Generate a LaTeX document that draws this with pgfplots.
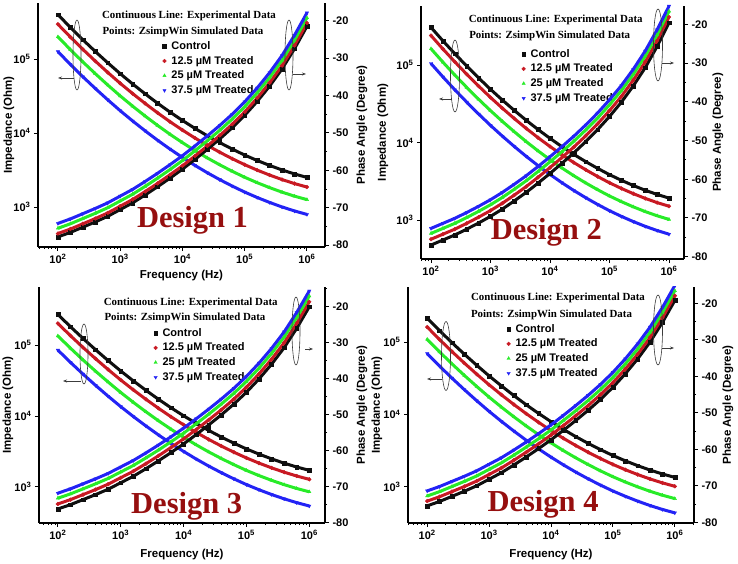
\documentclass[border=0pt]{standalone}
\usepackage{pgfplots}
\usepackage{pgfplotstable}
\pgfplotsset{compat=1.18}
\usetikzlibrary{arrows.meta}
\usepackage{fontspec}
\setmainfont{Liberation Serif}
\setsansfont{Liberation Sans}
\definecolor{cK}{RGB}{15,15,15}
\definecolor{cR}{RGB}{200,25,35}
\definecolor{cG}{RGB}{40,235,40}
\definecolor{cB}{RGB}{35,35,245}
\definecolor{cD}{RGB}{150,15,15}
\newcommand\tfont{\sffamily\bfseries\fontsize{11}{13}\selectfont}
\newcommand\lfont{\sffamily\bfseries\fontsize{11.5}{13}\selectfont}
\newcommand\nfont{\rmfamily\bfseries\fontsize{10.9}{13}\selectfont}
\newcommand\dfont{\rmfamily\bfseries\fontsize{30.5}{32}\selectfont}
\pgfplotsset{
  mleg/.style={legend image code/.code={\draw[##1] plot coordinates {(0pt,0pt)};}},
  mk/.style={only marks, mark size=1.9pt, mleg},
  ln/.style={line width=3pt, forget plot},
  twin/.style={scale only axis, axis line style={line width=1.1pt, black},
    tick style={line width=0.9pt, black}, tick align=outside,
    major tick length=4pt, minor tick length=2.2pt,
    tick label style={font=\tfont}, label style={font=\lfont}},
  leftax/.style={twin, axis y line*=left, axis x line*=bottom,
    xtick={2,3,4,5,6},
    xticklabels={10\textsuperscript{2},10\textsuperscript{3},10\textsuperscript{4},10\textsuperscript{5},10\textsuperscript{6}},
    minor xtick={1.699,1.778,1.845,1.903,1.954,2.301,2.477,2.602,2.699,2.778,2.845,2.903,2.954,3.301,3.477,3.602,3.699,3.778,3.845,3.903,3.954,4.301,4.477,4.602,4.699,4.778,4.845,4.903,4.954,5.301,5.477,5.602,5.699,5.778,5.845,5.903,5.954,6.301},
    ytick={3,4,5},
    yticklabels={10\textsuperscript{3},10\textsuperscript{4},10\textsuperscript{5}},
    legend cell align=left},
  rightax/.style={twin, axis y line*=right, axis x line=none,
    ytick={-80,-70,-60,-50,-40,-30,-20},
    yticklabels={-80,-70,-60,-50,-40,-30,-20},
    minor ytick={-75,-65,-55,-45,-35,-25,-15}},
  legst/.style={legend style={draw=none, fill=none, font=\tfont, anchor=north west,
    row sep=4.7pt, nodes={inner sep=0pt, text height=8pt, text depth=2pt},
    /tikz/every odd column/.append style={column sep=5pt}}},
}
\pgfplotstableread{
x zc zr zg zb pc pr pg pb
2.0 5.600 5.470 5.300 5.100 -77.8 -76.9 -75.5 -74.2
2.2 5.427 5.297 5.127 4.927 -76.6 -75.7 -74.3 -73.0
2.4 5.261 5.131 4.961 4.761 -75.2 -74.3 -72.9 -71.6
2.6 5.102 4.972 4.802 4.602 -73.8 -72.9 -71.5 -70.2
2.8 4.949 4.819 4.649 4.449 -72.3 -71.4 -70.0 -68.7
3.0 4.802 4.672 4.502 4.302 -70.5 -69.6 -68.2 -66.9
3.2 4.663 4.533 4.363 4.163 -68.7 -67.8 -66.4 -65.1
3.4 4.530 4.400 4.230 4.030 -66.6 -65.7 -64.3 -63.0
3.6 4.403 4.273 4.103 3.903 -64.4 -63.5 -62.1 -60.8
3.8 4.283 4.153 3.983 3.783 -62.1 -61.2 -59.8 -58.5
4.0 4.170 4.040 3.870 3.670 -59.7 -58.8 -57.4 -56.1
4.2 4.063 3.933 3.763 3.563 -57.1 -56.2 -54.8 -53.5
4.4 3.963 3.833 3.663 3.463 -54.4 -53.5 -52.1 -50.8
4.6 3.870 3.740 3.570 3.370 -51.6 -50.7 -49.3 -48.0
4.8 3.783 3.653 3.483 3.283 -48.6 -47.7 -46.3 -45.0
5.0 3.702 3.572 3.402 3.202 -45.3 -44.4 -43.0 -41.7
5.2 3.629 3.499 3.329 3.129 -41.6 -40.7 -39.3 -38.0
5.4 3.562 3.432 3.262 3.062 -37.5 -36.6 -35.2 -33.9
5.6 3.501 3.371 3.201 3.001 -32.9 -32.0 -30.6 -29.3
5.8 3.447 3.317 3.147 2.947 -27.5 -26.6 -25.2 -23.9
6.0 3.400 3.270 3.100 2.900 -21.5 -20.6 -19.2 -17.9
}\tA
\pgfplotstableread{
x zc zr zg zb pc pr pg pb
2.0 5.485 5.380 5.210 5.020 -77.0 -75.5 -74.0 -72.7
2.2 5.312 5.207 5.037 4.847 -75.7 -74.2 -72.7 -71.4
2.4 5.146 5.041 4.871 4.681 -74.4 -72.9 -71.4 -70.1
2.6 4.987 4.882 4.712 4.522 -72.9 -71.4 -69.9 -68.6
2.8 4.834 4.729 4.559 4.369 -71.3 -69.8 -68.3 -67.0
3.0 4.687 4.582 4.412 4.222 -69.6 -68.1 -66.6 -65.3
3.2 4.548 4.443 4.273 4.083 -67.7 -66.2 -64.7 -63.4
3.4 4.415 4.310 4.140 3.950 -65.6 -64.1 -62.6 -61.3
3.6 4.288 4.183 4.013 3.823 -63.4 -61.9 -60.4 -59.1
3.8 4.168 4.063 3.893 3.703 -61.0 -59.5 -58.0 -56.7
4.0 4.055 3.950 3.780 3.590 -58.5 -57.0 -55.5 -54.2
4.2 3.948 3.843 3.673 3.483 -55.9 -54.4 -52.9 -51.6
4.4 3.848 3.743 3.573 3.383 -53.2 -51.7 -50.2 -48.9
4.6 3.755 3.650 3.480 3.290 -50.3 -48.8 -47.3 -46.0
4.8 3.668 3.563 3.393 3.203 -47.2 -45.7 -44.2 -42.9
5.0 3.587 3.482 3.312 3.122 -43.8 -42.3 -40.8 -39.5
5.2 3.514 3.409 3.239 3.049 -40.1 -38.6 -37.1 -35.8
5.4 3.447 3.342 3.172 2.982 -35.9 -34.4 -32.9 -31.6
5.6 3.386 3.281 3.111 2.921 -31.2 -29.7 -28.2 -26.9
5.8 3.332 3.227 3.057 2.867 -25.7 -24.2 -22.7 -21.4
6.0 3.285 3.180 3.010 2.820 -19.6 -18.1 -16.6 -15.3
}\tB
\pgfplotstableread{
x zc zr zg zb pc pr pg pb
2.0 5.433 5.306 5.130 4.930 -76.3 -74.9 -73.3 -71.9
2.2 5.260 5.133 4.957 4.757 -75.1 -73.7 -72.1 -70.7
2.4 5.094 4.967 4.791 4.591 -73.7 -72.3 -70.7 -69.3
2.6 4.935 4.808 4.632 4.432 -72.3 -70.9 -69.3 -67.9
2.8 4.782 4.655 4.479 4.279 -70.8 -69.4 -67.8 -66.4
3.0 4.635 4.508 4.332 4.132 -69.0 -67.6 -66.0 -64.6
3.2 4.496 4.369 4.193 3.993 -67.2 -65.8 -64.2 -62.8
3.4 4.363 4.236 4.060 3.860 -65.1 -63.7 -62.1 -60.7
3.6 4.236 4.109 3.933 3.733 -62.9 -61.5 -59.9 -58.5
3.8 4.116 3.989 3.813 3.613 -60.6 -59.2 -57.6 -56.2
4.0 4.003 3.876 3.700 3.500 -58.2 -56.8 -55.2 -53.8
4.2 3.896 3.769 3.593 3.393 -55.6 -54.2 -52.6 -51.2
4.4 3.796 3.669 3.493 3.293 -52.9 -51.5 -49.9 -48.5
4.6 3.703 3.576 3.400 3.200 -50.1 -48.7 -47.1 -45.7
4.8 3.616 3.489 3.313 3.113 -47.1 -45.7 -44.1 -42.7
5.0 3.535 3.408 3.232 3.032 -43.8 -42.4 -40.8 -39.4
5.2 3.462 3.335 3.159 2.959 -40.1 -38.7 -37.1 -35.7
5.4 3.395 3.268 3.092 2.892 -36.0 -34.6 -33.0 -31.6
5.6 3.334 3.207 3.031 2.831 -31.4 -30.0 -28.4 -27.0
5.8 3.280 3.153 2.977 2.777 -26.0 -24.6 -23.0 -21.6
6.0 3.233 3.106 2.930 2.730 -20.0 -18.6 -17.0 -15.6
}\tC
\pgfplotstableread{
x zc zr zg zb pc pr pg pb
2.0 5.330 5.207 5.037 4.840 -75.5 -74.2 -72.8 -71.4
2.2 5.157 5.034 4.864 4.667 -74.3 -73.0 -71.6 -70.2
2.4 4.991 4.868 4.698 4.501 -72.9 -71.6 -70.2 -68.8
2.6 4.832 4.709 4.539 4.342 -71.5 -70.2 -68.8 -67.4
2.8 4.679 4.556 4.386 4.189 -70.0 -68.7 -67.3 -65.9
3.0 4.532 4.409 4.239 4.042 -68.2 -66.9 -65.5 -64.1
3.2 4.393 4.270 4.100 3.903 -66.4 -65.1 -63.7 -62.3
3.4 4.260 4.137 3.967 3.770 -64.3 -63.0 -61.6 -60.2
3.6 4.133 4.010 3.840 3.643 -62.1 -60.8 -59.4 -58.0
3.8 4.013 3.890 3.720 3.523 -59.8 -58.5 -57.1 -55.7
4.0 3.900 3.777 3.607 3.410 -57.4 -56.1 -54.7 -53.3
4.2 3.793 3.670 3.500 3.303 -54.8 -53.5 -52.1 -50.7
4.4 3.693 3.570 3.400 3.203 -52.1 -50.8 -49.4 -48.0
4.6 3.600 3.477 3.307 3.110 -49.3 -48.0 -46.6 -45.2
4.8 3.513 3.390 3.220 3.023 -46.3 -45.0 -43.6 -42.2
5.0 3.432 3.309 3.139 2.942 -43.0 -41.7 -40.3 -38.9
5.2 3.359 3.236 3.066 2.869 -39.3 -38.0 -36.6 -35.2
5.4 3.292 3.169 2.999 2.802 -35.2 -33.9 -32.5 -31.1
5.6 3.231 3.108 2.938 2.741 -30.6 -29.3 -27.9 -26.5
5.8 3.177 3.054 2.884 2.687 -25.2 -23.9 -22.5 -21.1
6.0 3.130 3.007 2.837 2.640 -19.2 -17.9 -16.5 -15.1
}\tD
\begin{document}
\begin{tikzpicture}
\useasboundingbox (0pt,0pt) rectangle (738pt,564pt);
% ---------------- Panel 1 ----------------
\begin{axis}[leftax, legst, at={(38pt,317pt)}, width=287pt, height=244pt,
  xmin=1.68, xmax=6.29, ymin=2.46, ymax=5.757,
  legend style={at={(0.423,0.852)}},
  ylabel={Impedance (Ohm)}, ylabel style={at={([xshift=-29pt]axis description cs:0,0.5)}, anchor=center},
  xlabel={Frequency (Hz)}, xlabel style={at={([yshift=-29pt]axis description cs:0.5,0)}, anchor=center}]
\addplot[cK, ln] table[x=x,y=zc]{\tA};
\addplot[cK, mk, mark=square*] table[x=x,y=zc]{\tA}; \addlegendentry{Control}
\addplot[cR, ln] table[x=x,y=zr]{\tA};
\addplot[cR, mk, mark=*] table[x=x,y=zr]{\tA}; \addlegendentry{12.5 µM Treated}
\addplot[cG, ln] table[x=x,y=zg]{\tA};
\addplot[cG, mk, mark=triangle*] table[x=x,y=zg]{\tA}; \addlegendentry{25 µM Treated}
\addplot[cB, ln] table[x=x,y=zb]{\tA};
\addplot[cB, mk, mark=triangle*, mark options={rotate=180}] table[x=x,y=zb]{\tA}; \addlegendentry{37.5 µM Treated}
\end{axis}
\begin{axis}[rightax, at={(38pt,317pt)}, width=287pt, height=244pt,
  xmin=1.68, xmax=6.29, ymin=-80.5, ymax=-15.27,
  ylabel={Phase Angle (Degree)}, ylabel style={at={([xshift=37pt]axis description cs:1,0.5)}, anchor=center}]
\addplot[cK, ln] table[x=x,y=pc]{\tA};
\addplot[cK, mk, mark=square*, forget plot] table[x=x,y=pc]{\tA};
\addplot[cR, ln] table[x=x,y=pr]{\tA};
\addplot[cR, mk, mark=*, forget plot] table[x=x,y=pr]{\tA};
\addplot[cG, ln] table[x=x,y=pg]{\tA};
\addplot[cG, mk, mark=triangle*, forget plot] table[x=x,y=pg]{\tA};
\addplot[cB, ln] table[x=x,y=pb]{\tA};
\addplot[cB, mk, mark=triangle*, mark options={rotate=180}, forget plot] table[x=x,y=pb]{\tA};
\end{axis}
% ---------------- Panel 2 ----------------
\begin{axis}[leftax, legst, at={(421pt,305pt)}, width=263pt, height=253pt,
  xmin=1.832, xmax=6.252, ymin=2.50, ymax=5.761,
  legend style={at={(0.371,0.838)}},
  ylabel={Impedance (Ohm)}, ylabel style={at={([xshift=-38pt]axis description cs:0,0.5)}, anchor=center}]
\addplot[cK, ln] table[x=x,y=zc]{\tB};
\addplot[cK, mk, mark=square*] table[x=x,y=zc]{\tB}; \addlegendentry{Control}
\addplot[cR, ln] table[x=x,y=zr]{\tB};
\addplot[cR, mk, mark=*] table[x=x,y=zr]{\tB}; \addlegendentry{12.5 µM Treated}
\addplot[cG, ln] table[x=x,y=zg]{\tB};
\addplot[cG, mk, mark=triangle*] table[x=x,y=zg]{\tB}; \addlegendentry{25 µM Treated}
\addplot[cB, ln] table[x=x,y=zb]{\tB};
\addplot[cB, mk, mark=triangle*, mark options={rotate=180}] table[x=x,y=zb]{\tB}; \addlegendentry{37.5 µM Treated}
\end{axis}
\begin{axis}[rightax, at={(421pt,305pt)}, width=263pt, height=253pt,
  xmin=1.832, xmax=6.252, ymin=-80.6, ymax=-15.27,
  ylabel={Phase Angle (Degree)}, ylabel style={at={([xshift=34pt]axis description cs:1,0.5)}, anchor=center}]
\addplot[cK, ln] table[x=x,y=pc]{\tB};
\addplot[cK, mk, mark=square*, forget plot] table[x=x,y=pc]{\tB};
\addplot[cR, ln] table[x=x,y=pr]{\tB};
\addplot[cR, mk, mark=*, forget plot] table[x=x,y=pr]{\tB};
\addplot[cG, ln] table[x=x,y=pg]{\tB};
\addplot[cG, mk, mark=triangle*, forget plot] table[x=x,y=pg]{\tB};
\addplot[cB, ln] table[x=x,y=pb]{\tB};
\addplot[cB, mk, mark=triangle*, mark options={rotate=180}, forget plot] table[x=x,y=pb]{\tB};
\end{axis}
% ---------------- Panel 3 ----------------
\begin{axis}[leftax, legst, at={(39pt,41pt)}, width=286pt, height=236pt,
  xmin=1.70, xmax=6.25, ymin=2.49, ymax=5.82,
  legend style={at={(0.390,0.835)}},
  ylabel={Impedance (Ohm)}, ylabel style={at={([xshift=-31pt]axis description cs:0,0.5)}, anchor=center},
  xlabel={Frequency (Hz)}, xlabel style={at={([yshift=-32pt]axis description cs:0.5,0)}, anchor=center}]
\addplot[cK, ln] table[x=x,y=zc]{\tC};
\addplot[cK, mk, mark=square*] table[x=x,y=zc]{\tC}; \addlegendentry{Control}
\addplot[cR, ln] table[x=x,y=zr]{\tC};
\addplot[cR, mk, mark=*] table[x=x,y=zr]{\tC}; \addlegendentry{12.5 µM Treated}
\addplot[cG, ln] table[x=x,y=zg]{\tC};
\addplot[cG, mk, mark=triangle*] table[x=x,y=zg]{\tC}; \addlegendentry{25 µM Treated}
\addplot[cB, ln] table[x=x,y=zb]{\tC};
\addplot[cB, mk, mark=triangle*, mark options={rotate=180}] table[x=x,y=zb]{\tC}; \addlegendentry{37.5 µM Treated}
\end{axis}
\begin{axis}[rightax, at={(39pt,41pt)}, width=286pt, height=236pt,
  xmin=1.70, xmax=6.25, ymin=-80.2, ymax=-14.5,
  ylabel={Phase Angle (Degree)}, ylabel style={at={([xshift=37pt]axis description cs:1,0.5)}, anchor=center}]
\addplot[cK, ln] table[x=x,y=pc]{\tC};
\addplot[cK, mk, mark=square*, forget plot] table[x=x,y=pc]{\tC};
\addplot[cR, ln] table[x=x,y=pr]{\tC};
\addplot[cR, mk, mark=*, forget plot] table[x=x,y=pr]{\tC};
\addplot[cG, ln] table[x=x,y=pg]{\tC};
\addplot[cG, mk, mark=triangle*, forget plot] table[x=x,y=pg]{\tC};
\addplot[cB, ln] table[x=x,y=pb]{\tC};
\addplot[cB, mk, mark=triangle*, mark options={rotate=180}, forget plot] table[x=x,y=pb]{\tC};
\end{axis}
% ---------------- Panel 4 ----------------
\begin{axis}[leftax, legst, at={(408pt,41pt)}, width=286pt, height=236pt,
  xmin=1.69, xmax=6.31, ymin=2.50, ymax=5.76,
  legend style={at={(0.334,0.852)}},
  ylabel={Impedance (Ohm)}, ylabel style={at={([xshift=-31pt]axis description cs:0,0.5)}, anchor=center},
  xlabel={Frequency (Hz)}, xlabel style={at={([yshift=-32pt]axis description cs:0.5,0)}, anchor=center}]
\addplot[cK, ln] table[x=x,y=zc]{\tD};
\addplot[cK, mk, mark=square*] table[x=x,y=zc]{\tD}; \addlegendentry{Control}
\addplot[cR, ln] table[x=x,y=zr]{\tD};
\addplot[cR, mk, mark=*] table[x=x,y=zr]{\tD}; \addlegendentry{12.5 µM Treated}
\addplot[cG, ln] table[x=x,y=zg]{\tD};
\addplot[cG, mk, mark=triangle*] table[x=x,y=zg]{\tD}; \addlegendentry{25 µM Treated}
\addplot[cB, ln] table[x=x,y=zb]{\tD};
\addplot[cB, mk, mark=triangle*, mark options={rotate=180}] table[x=x,y=zb]{\tD}; \addlegendentry{37.5 µM Treated}
\end{axis}
\begin{axis}[rightax, at={(408pt,41pt)}, width=286pt, height=236pt,
  xmin=1.69, xmax=6.31, ymin=-80.2, ymax=-15.5,
  ylabel={Phase Angle (Degree)}, ylabel style={at={([xshift=34pt]axis description cs:1,0.5)}, anchor=center}]
\addplot[cK, ln] table[x=x,y=pc]{\tD};
\addplot[cK, mk, mark=square*, forget plot] table[x=x,y=pc]{\tD};
\addplot[cR, ln] table[x=x,y=pr]{\tD};
\addplot[cR, mk, mark=*, forget plot] table[x=x,y=pr]{\tD};
\addplot[cG, ln] table[x=x,y=pg]{\tD};
\addplot[cG, mk, mark=triangle*, forget plot] table[x=x,y=pg]{\tD};
\addplot[cB, ln] table[x=x,y=pb]{\tD};
\addplot[cB, mk, mark=triangle*, mark options={rotate=180}, forget plot] table[x=x,y=pb]{\tD};
\end{axis}
% ---------------- annotations ----------------
\begin{scope}[line width=0.6pt, draw={rgb,255:red,60;green,60;blue,60}]
\draw (77pt,509pt) ellipse [x radius=4pt, y radius=35pt];
\draw[-{Stealth[length=4pt,width=3pt]}] (74pt,486pt) -- (58pt,486pt);
\draw (289pt,509pt) ellipse [x radius=4pt, y radius=35pt];
\draw[-{Stealth[length=4pt,width=3pt]}] (293pt,490pt) -- (306pt,490pt);
\draw (455pt,488pt) ellipse [x radius=4.5pt, y radius=36pt];
\draw[-{Stealth[length=4pt,width=3pt]}] (452pt,465pt) -- (439pt,465pt);
\draw (658pt,519pt) ellipse [x radius=4.5pt, y radius=36pt];
\draw[-{Stealth[length=4pt,width=3pt]}] (662pt,501pt) -- (674pt,501pt);
\draw (84pt,210pt) ellipse [x radius=4pt, y radius=30pt];
\draw[-{Stealth[length=4pt,width=3pt]}] (81pt,183pt) -- (63pt,183pt);
\draw (296pt,233pt) ellipse [x radius=4pt, y radius=34pt];
\draw[-{Stealth[length=4pt,width=3pt]}] (305pt,215pt) -- (313pt,215pt);
\draw (446pt,208pt) ellipse [x radius=4.5pt, y radius=34.5pt];
\draw[-{Stealth[length=4pt,width=3pt]}] (442pt,185pt) -- (427pt,185pt);
\draw (658pt,234pt) ellipse [x radius=4.5pt, y radius=35pt];
\draw[-{Stealth[length=4pt,width=3pt]}] (662pt,216pt) -- (674pt,216pt);
\end{scope}
\node[anchor=base, font=\nfont, inner sep=0pt] at (189pt,545.7pt) {Continuous Line: Experimental Data};
\node[anchor=base, font=\nfont, inner sep=0pt] at (183pt,529pt) {Points: ZsimpWin Simulated Data};
\node[anchor=base, font=\dfont, text=cD, inner sep=0pt] at (192.5pt,336pt) {Design 1};
\node[anchor=base, font=\nfont, inner sep=0pt] at (555.7pt,541.7pt) {Continuous Line: Experimental Data};
\node[anchor=base, font=\nfont, inner sep=0pt] at (549.7pt,525pt) {Points: ZsimpWin Simulated Data};
\node[anchor=base, font=\dfont, text=cD, inner sep=0pt] at (546.3pt,324pt) {Design 2};
\node[anchor=base, font=\nfont, inner sep=0pt] at (190.7pt,258.7pt) {Continuous Line: Experimental Data};
\node[anchor=base, font=\nfont, inner sep=0pt] at (185pt,243pt) {Points: ZsimpWin Simulated Data};
\node[anchor=base, font=\dfont, text=cD, inner sep=0pt] at (186.7pt,50.3pt) {Design 3};
\node[anchor=base, font=\nfont, inner sep=0pt] at (558pt,263pt) {Continuous Line: Experimental Data};
\node[anchor=base, font=\nfont, inner sep=0pt] at (551.5pt,246pt) {Points: ZsimpWin Simulated Data};
\node[anchor=base, font=\dfont, text=cD, inner sep=0pt] at (543pt,52.7pt) {Design 4};
\end{tikzpicture}
\end{document}
